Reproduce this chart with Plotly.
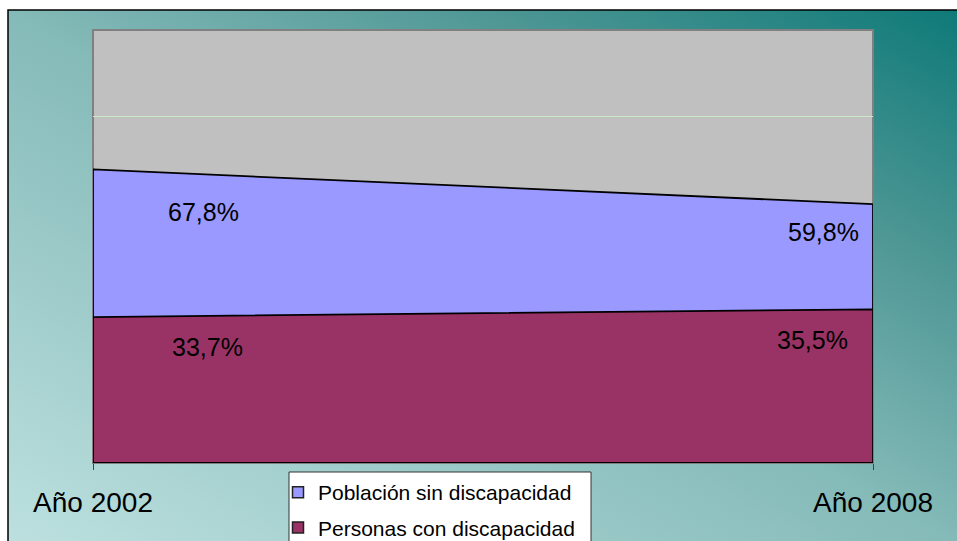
import base64
import plotly.graph_objects as go

# ---- data ----
categories = ["Año 2002", "Año 2008"]
series_names = ["Población sin discapacidad", "Personas con discapacidad"]
sin_discapacidad = [67.8, 59.8]
con_discapacidad = [33.7, 35.5]

colors = ["#9999FF", "#993366"]
W, H = 957, 541
FONT = "Liberation Sans, Arial, sans-serif"

def px(x):
    return x / W

def py(y):
    return 1 - y / H

# gradient background as SVG data URI
svg = (
    '<svg xmlns="http://www.w3.org/2000/svg" width="100" height="100" '
    'viewBox="0 0 100 100" preserveAspectRatio="none">'
    '<defs><linearGradient id="g" x1="0" y1="1" x2="1" y2="0">'
    '<stop offset="0" stop-color="#BCE0DF"/>'
    '<stop offset="0.5" stop-color="#84BAB8"/>'
    '<stop offset="0.75" stop-color="#4E9795"/>'
    '<stop offset="1" stop-color="#0E7A78"/>'
    '</linearGradient></defs>'
    '<rect x="0" y="0" width="100" height="100" fill="url(#g)"/></svg>'
)
svg_uri = "data:image/svg+xml;base64," + base64.b64encode(svg.encode()).decode()

fig = go.Figure()

# area polygons (blue first, maroon over it)
for name, vals, col in [(series_names[0], sin_discapacidad, colors[0]),
                        (series_names[1], con_discapacidad, colors[1])]:
    fig.add_trace(go.Scatter(
        x=[categories[0], categories[0], categories[1], categories[1], categories[0]],
        y=[0, vals[0], vals[1], 0, 0],
        mode="lines", fill="toself", fillcolor=col,
        line=dict(color="black", width=1.8),
        showlegend=False, hoverinfo="skip", name=name,
    ))

# legend entries (square markers)
for i, (name, col) in enumerate(zip(series_names, colors)):
    fig.add_trace(go.Scatter(
        x=[None], y=[None], mode="markers", name=name,
        legendgroup=f"g{i}",
        marker=dict(symbol="square", size=11, color=col,
                    line=dict(color="#222222", width=1.5)),
    ))

# data labels (yshift: positive = up)
label_shifts = {
    0: [(110, -43), (-50, -28)],
    1: [(114, -30), (-61, -31)],
}
for si, vals in enumerate([sin_discapacidad, con_discapacidad]):
    for ci, v in enumerate(vals):
        xs, ys = label_shifts[si][ci]
        fig.add_annotation(
            x=categories[ci], y=v, xref="x", yref="y",
            text=f"{v:.1f}%".replace(".", ","), showarrow=False,
            xshift=xs, yshift=ys, xanchor="center", yanchor="middle",
            font=dict(size=25, color="black", family=FONT),
        )

shapes = [
    # plot area background and border
    dict(type="rect", xref="x domain", yref="y domain", x0=0, x1=1, y0=0, y1=1,
         fillcolor="#C0C0C0", line=dict(color="#808080", width=2), layer="below"),
    # chart frame
    dict(type="rect", xref="paper", yref="paper", x0=px(8), x1=1.02, y0=-0.02, y1=py(10),
         fillcolor="rgba(0,0,0,0)", line=dict(color="black", width=1.5), layer="above"),
    # legend box
    dict(type="rect", xref="paper", yref="paper", x0=px(289), x1=px(591), y0=-0.05, y1=py(472),
         fillcolor="white", line=dict(color="#333333", width=1), layer="below"),
]

fig.update_layout(
    width=W, height=H,
    margin=dict(l=0, r=0, t=0, b=0, autoexpand=False),
    paper_bgcolor="white",
    plot_bgcolor="rgba(0,0,0,0)",
    font=dict(family=FONT, color="black"),
    shapes=shapes,
    images=[dict(source=svg_uri, xref="paper", yref="paper",
                 x=px(8), y=py(10), sizex=1 - px(8), sizey=py(10),
                 xanchor="left", yanchor="top", sizing="stretch", layer="below")],
    xaxis=dict(
        domain=[px(93), px(873)], type="category", range=[0, 1],
        tickvals=categories, ticktext=categories,
        ticks="outside", ticklen=6, tickcolor="#444444", tickwidth=1,
        tickfont=dict(size=28, color="black", family=FONT),
        ticklabelstandoff=8, automargin=False,
        showgrid=False, showline=False, zeroline=False,
    ),
    yaxis=dict(
        domain=[py(463), py(30)], range=[0, 100], dtick=20,
        showticklabels=False, ticks="", showgrid=True, automargin=False,
        gridcolor="#C8E8C8", gridwidth=1, zeroline=False, showline=False,
    ),
    legend=dict(
        x=px(278), y=py(472), xanchor="left", yanchor="top",
        bgcolor="rgba(0,0,0,0)", borderwidth=0,
        font=dict(size=21, color="black", family=FONT),
        tracegroupgap=5, traceorder="grouped",
    ),
    showlegend=True,
)

fig.write_html("out.html")
